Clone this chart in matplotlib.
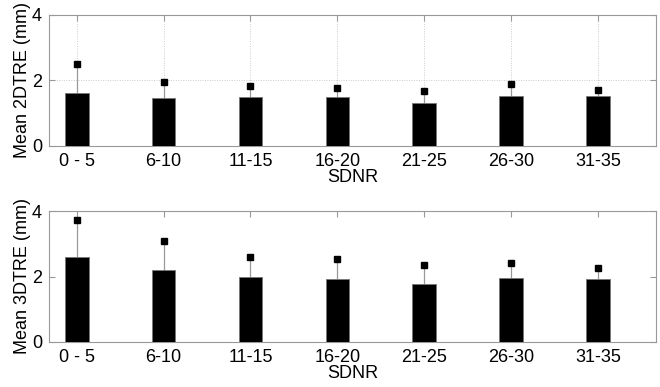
import matplotlib
matplotlib.use("Agg")
import matplotlib.pyplot as plt
import numpy as np

plt.rcParams['font.family'] = ['Liberation Sans', 'DejaVu Sans']

categories = ["0 - 5", "6-10", "11-15", "16-20", "21-25", "26-30", "31-35"]
mean_2d = [1.61, 1.48, 1.51, 1.49, 1.32, 1.54, 1.54]
upper_2d = [2.50, 1.94, 1.84, 1.78, 1.69, 1.88, 1.71]
mean_3d = [2.60, 2.19, 1.98, 1.93, 1.78, 1.96, 1.91]
upper_3d = [3.74, 3.07, 2.60, 2.54, 2.36, 2.40, 2.26]
yticks = [0, 2, 4]

fig = plt.figure(figsize=(6.6, 3.87), dpi=100)
W, H = 660, 387
ax1 = fig.add_axes([49 / W, 1 - 146 / H, (656 - 49) / W, (146 - 15) / H])
ax2 = fig.add_axes([49 / W, 1 - 342 / H, (656 - 49) / W, (342 - 211) / H])

x = np.arange(1, len(categories) + 1)
spine_col = '#999999'
fs = 13
for ax, m, u, lab, grid in [(ax1, mean_2d, upper_2d, "Mean 2DTRE (mm)", True),
                            (ax2, mean_3d, upper_3d, "Mean 3DTRE (mm)", False)]:
    if grid:
        ax.grid(True, linestyle=(0, (1, 1.5)), color='#cccccc', linewidth=0.7)
        ax.set_axisbelow(True)
    ax.vlines(x, m, u, color='#999999', linewidth=0.9, zorder=2)
    ax.bar(x, m, width=0.27, color='black', edgecolor='#777777', linewidth=0.6, zorder=3)
    ax.plot(x, u, 's', color='black', markersize=4, zorder=4)
    ax.set_xlim(0.68, 7.67)
    ax.set_ylim(0, 4)
    ax.set_yticks(yticks)
    ax.set_xticks(x)
    ax.set_xticklabels(categories)
    ax.tick_params(direction='in', top=True, right=True, length=4, color=spine_col,
                   labelsize=fs, pad=5)
    for s in ax.spines.values():
        s.set_color(spine_col)
        s.set_linewidth(0.8)
    ax.set_ylabel(lab, fontsize=fs, labelpad=1)
    ax.set_xlabel("SDNR", fontsize=fs, labelpad=-1)

fig.savefig("out.png", dpi=100)
